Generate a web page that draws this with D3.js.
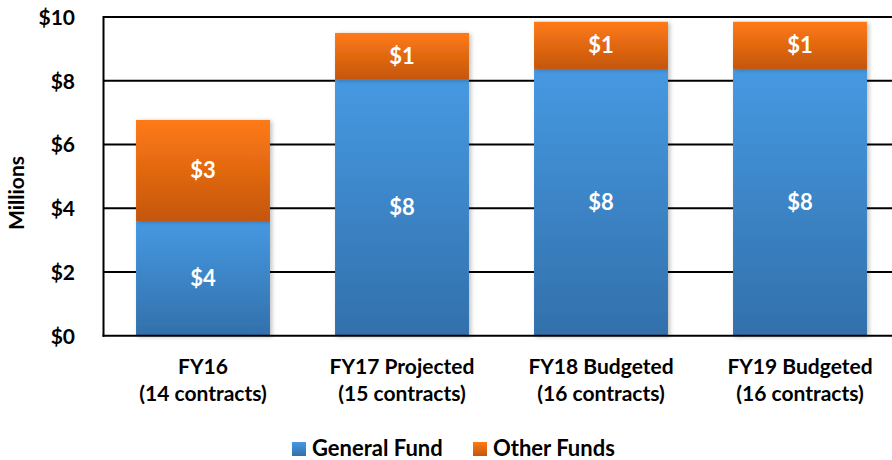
<!DOCTYPE html>
<html><head><meta charset="utf-8">
<script src="https://cdn.jsdelivr.net/npm/d3@7"></script>
<style>body{margin:0;background:#fff}svg{display:block}text{font-family:Lato,"Open Sans",sans-serif;font-weight:bold}</style>
</head><body><svg id="c" width="892" height="460"></svg>
<script>
const categories = ["FY16|(14 contracts)", "FY17 Projected|(15 contracts)", "FY18 Budgeted|(16 contracts)", "FY19 Budgeted|(16 contracts)"];
const generalFund = [3.6, 8.03, 8.37, 8.37];
const otherFunds = [3.17, 1.47, 1.48, 1.48];
const tickValues = [0, 2, 4, 6, 8, 10];
const seriesNames = ["General Fund", "Other Funds"];

const svg = d3.select("#c");
const defs = svg.append("defs");
function grad(id, top, bot){
  const g = defs.append("linearGradient").attr("id", id).attr("x1",0).attr("y1",0).attr("x2",0).attr("y2",1);
  g.append("stop").attr("offset","0%").attr("stop-color",top);
  g.append("stop").attr("offset","100%").attr("stop-color",bot);
}
grad("gBlue", "#4699e2", "#3270ab");
grad("gOrange", "#ff7a14", "#c4560e");
const f = defs.append("filter").attr("id","sh").attr("x","-10%").attr("y","-10%").attr("width","130%").attr("height","130%");
f.append("feDropShadow").attr("dx",2).attr("dy",1).attr("stdDeviation",2).attr("flood-color","#000").attr("flood-opacity",0.25);

const x = d3.scaleBand().domain(categories).range([103.5, 899.5]).paddingInner(0.327).paddingOuter(0.1635);
const y = d3.scaleLinear().domain([0, 10]).range([335.7, 17]);

// gridlines
svg.append("g").selectAll("line").data(tickValues.filter(d => d > 0)).join("line")
  .attr("x1", 103.5).attr("x2", 892).attr("y1", d => y(d)).attr("y2", d => y(d))
  .attr("stroke", "#000").attr("stroke-width", 2);

// y axis labels
const yAxis = d3.axisLeft(y).tickValues(tickValues).tickFormat(d => "$" + d).tickSize(0).tickPadding(0);
const ya = svg.append("g").attr("transform", "translate(75,0)").call(yAxis);
ya.select(".domain").remove();
ya.selectAll("text").attr("font-size", 21).attr("fill", "#000").attr("font-family", "Lato").attr("font-weight", "bold").attr("dy", "0.35em");

svg.append("text").attr("transform", "translate(24,193) rotate(-90)").attr("text-anchor", "middle")
  .attr("font-size", 21).attr("fill", "#000").text("Millions");

// bars
const stackData = categories.map((c, i) => ({cat: c, g: generalFund[i], o: otherFunds[i]}));
const stack = d3.stack().keys(["g", "o"])(stackData);
const fills = ["url(#gBlue)", "url(#gOrange)"];
stack.forEach((s, si) => {
  svg.append("g").selectAll("rect").data(s).join("rect")
    .attr("x", d => x(d.data.cat)).attr("width", x.bandwidth())
    .attr("y", d => y(d[1])).attr("height", d => y(d[0]) - y(d[1]))
    .attr("fill", fills[si]).attr("filter", "url(#sh)");
});
stack.forEach((s, si) => {
  svg.append("g").selectAll("text").data(s).join("text")
    .attr("x", d => x(d.data.cat) + x.bandwidth() / 2)
    .attr("y", d => (y(d[0]) + y(d[1])) / 2).attr("dy", "0.35em")
    .attr("text-anchor", "middle").attr("fill", "#fff").attr("font-size", 22)
    .text(d => "$" + Math.round(d[1] - d[0]));
});

// axes lines
svg.append("line").attr("x1", 103.5).attr("x2", 103.5).attr("y1", 16).attr("y2", 336.7).attr("stroke", "#000").attr("stroke-width", 2);
svg.append("line").attr("x1", 102.5).attr("x2", 892).attr("y1", y(0)).attr("y2", y(0)).attr("stroke", "#000").attr("stroke-width", 2);

// category labels
const xa = svg.append("g");
categories.forEach(c => {
  const parts = c.split("|");
  const t = xa.append("text").attr("text-anchor", "middle").attr("font-size", 21).attr("fill", "#000");
  parts.forEach((p, i) => t.append("tspan").attr("x", x(c) + x.bandwidth() / 2).attr("y", 374 + i * 27).text(p));
});

// legend
const legX = [292, 473];
const legFill = ["url(#gBlue)", "url(#gOrange)"];
seriesNames.forEach((n, i) => {
  svg.append("rect").attr("x", legX[i]).attr("y", 442).attr("width", 14).attr("height", 14).attr("fill", legFill[i]);
  svg.append("text").attr("x", legX[i] + 20).attr("y", 456).attr("font-size", 22).attr("fill", "#000").text(n);
});
</script></body></html>
